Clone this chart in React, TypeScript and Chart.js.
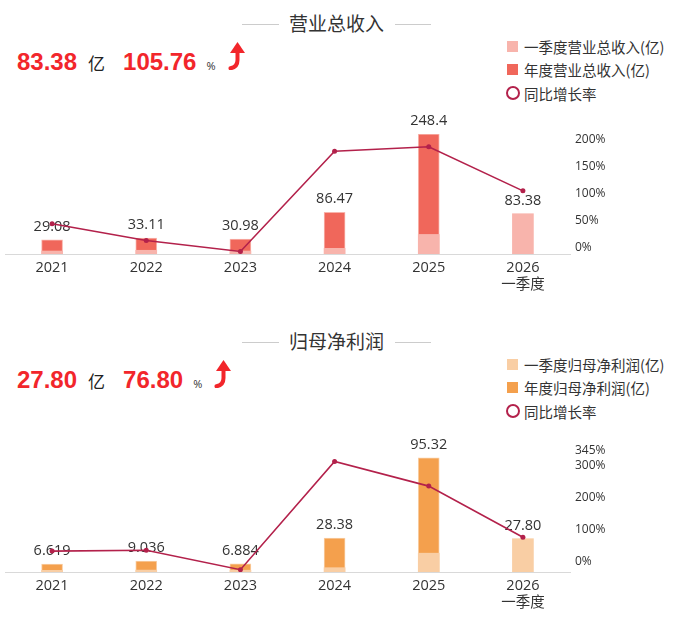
import React, { useEffect, useRef } from 'react';
import { Chart, registerables } from 'chart.js';

Chart.register(...registerables);

// ---------- data ----------
const categories: (string | string[])[] = ['2021', '2022', '2023', '2024', '2025', ['2026', '一季度']];

const revenueAnnual: (number | null)[] = [29.08, 33.11, 30.98, 86.47, 248.4, null];
const revenueQ1: number[] = [6.2, 7.7, 6.2, 11.8, 40.52, 83.38];
const revenueGrowth: number[] = [45, 13.86, -6.43, 179.1, 187.3, 105.76];
const revenueTicks: number[] = [0, 50, 100, 150, 200];

const profitAnnual: (number | null)[] = [6.619, 9.036, 6.884, 28.38, 95.32, null];
const profitQ1: number[] = [1.4, 1.6, 1.5, 3.6, 15.72, 27.8];
const profitGrowth: number[] = [34, 36.52, -23.81, 312.3, 235.9, 76.8];
const profitTicks: number[] = [0, 100, 200, 300, 345];

const FONT = "'Open Sans', 'Noto Sans CJK SC', sans-serif";
const CJK = "'Noto Sans CJK SC', 'Open Sans', sans-serif";
const LINE_COLOR = '#b3214b';
const RED = '#f2262b';

type ChartProps = {
  annual: (number | null)[];
  q1: number[];
  growth: number[];
  dark: string;
  light: string;
  leftMax: number;
  rightMin: number;
  rightMax: number;
  rightTicks: number[];
  topPad: number;
};

function BarLineChart(p: ChartProps) {
  const ref = useRef<HTMLCanvasElement | null>(null);
  useEffect(() => {
    if (!ref.current) return;
    const labelPlugin = {
      id: 'barLabels',
      afterDatasetDraw(chart: any, args: any) {
        if (args.index !== 1) return;
        const ctx = chart.ctx;
        const mq = chart.getDatasetMeta(1);
        const ma = chart.getDatasetMeta(2);
        ctx.save();
        ctx.font = `14.5px ${FONT}`;
        ctx.fillStyle = '#333';
        ctx.textAlign = 'center';
        ctx.textBaseline = 'middle';
        for (let i = 0; i < categories.length; i++) {
          const a = p.annual[i];
          const v = a != null ? a : p.q1[i];
          const el = a != null ? ma.data[i] : mq.data[i];
          if (!el) continue;
          ctx.fillText(v.toPrecision(4), el.x, el.y - 13);
        }
        ctx.restore();
      },
    };
    const chart = new Chart(ref.current, {
      type: 'bar',
      data: {
        labels: categories,
        datasets: [
          {
            type: 'line',
            data: p.growth,
            yAxisID: 'y1',
            borderColor: LINE_COLOR,
            borderWidth: 1.6,
            pointRadius: 2.5,
            pointBackgroundColor: LINE_COLOR,
            pointBorderWidth: 0,
            tension: 0,
            order: 0,
          } as any,
          {
            type: 'bar',
            data: p.q1,
            yAxisID: 'y',
            backgroundColor: p.light,
            barThickness: 21,
            grouped: false,
            order: 1,
          } as any,
          {
            type: 'bar',
            data: p.annual,
            yAxisID: 'y',
            backgroundColor: p.dark,
            borderColor: p.light,
            borderWidth: 1,
            borderSkipped: 'bottom',
            barThickness: 21,
            grouped: false,
            order: 2,
          } as any,
        ],
      },
      options: {
        responsive: false,
        animation: false,
        layout: { padding: { top: p.topPad, left: 5, right: 0, bottom: 0 } },
        plugins: { legend: { display: false }, tooltip: { enabled: false } },
        scales: {
          x: {
            grid: { display: false, drawTicks: false },
            border: { display: true, color: '#d9d9d9' },
            ticks: { color: '#333', font: { size: 14.5, family: FONT }, padding: 5, maxRotation: 0, autoSkip: false },
            afterFit: (s: any) => {
              s.height = 46;
            },
          },
          y: { display: false, min: 0, max: p.leftMax },
          y1: {
            position: 'right',
            min: p.rightMin,
            max: p.rightMax,
            grid: { display: false, drawTicks: false },
            border: { display: false },
            ticks: { color: '#333', font: { size: 12, family: FONT }, padding: 5, callback: (v: any) => v + '%' },
            afterBuildTicks: (s: any) => {
              s.ticks = p.rightTicks.map((v) => ({ value: v }));
            },
            afterFit: (s: any) => {
              s.width = 111;
            },
          },
        } as any,
      },
      plugins: [labelPlugin],
    } as any);
    return () => chart.destroy();
  }, []);
  return <canvas ref={ref} width={681} height={195} style={{ position: 'absolute', left: 0, top: 105, width: 681, height: 195 }} />;
}

function Arrow() {
  return (
    <svg width="18" height="28" viewBox="0 0 18 28" style={{ marginLeft: 12, display: 'block' }}>
      <polygon points="9.5,0 2,11 17,11" fill={RED} />
      <path d="M9.5,9 L9.5,18 Q9.5,25 2.5,26.3" stroke={RED} strokeWidth="4" fill="none" strokeLinecap="round" />
    </svg>
  );
}

type SectionProps = {
  top: number;
  title: string;
  value: number;
  pct: number;
  legend: string[];
  chart: ChartProps;
};

function Section(s: SectionProps) {
  return (
    <div style={{ position: 'absolute', left: 0, top: s.top, width: 681, height: 318 }}>
      <div style={{ position: 'absolute', left: 242, top: 24, width: 37, height: 1, background: '#cccccc' }} />
      <div style={{ position: 'absolute', left: 395, top: 24, width: 36, height: 1, background: '#cccccc' }} />
      <div
        style={{
          position: 'absolute',
          left: 236.5,
          width: 200,
          top: 10,
          lineHeight: '26px',
          textAlign: 'center',
          fontFamily: CJK,
          fontSize: 19,
          color: '#333',
        }}
      >
        {s.title}
      </div>
      <div style={{ position: 'absolute', left: 17, top: 42, height: 30, display: 'flex', alignItems: 'baseline' }}>
        <span style={{ fontFamily: "'Liberation Sans', Arial, sans-serif", fontWeight: 'bold', fontSize: 24, color: RED }}>
          {s.value.toFixed(2)}
        </span>
        <span style={{ fontFamily: CJK, fontSize: 17, color: '#222', marginLeft: 11 }}>亿</span>
        <span style={{ fontFamily: "'Liberation Sans', Arial, sans-serif", fontWeight: 'bold', fontSize: 24, color: RED, marginLeft: 18 }}>
          {s.pct.toFixed(2)}
        </span>
        <span style={{ fontFamily: FONT, fontSize: 11, color: '#333', marginLeft: 10 }}>%</span>
        <Arrow />
      </div>
      <div style={{ position: 'absolute', left: 507, top: 34.25, fontFamily: CJK, fontSize: 14.5, color: '#333' }}>
        <div style={{ display: 'flex', alignItems: 'center', height: 23.5 }}>
          <div style={{ width: 11, height: 11, background: s.chart.light, marginRight: 6 }} />
          <span>{s.legend[0]}</span>
        </div>
        <div style={{ display: 'flex', alignItems: 'center', height: 23.5 }}>
          <div style={{ width: 11, height: 11, background: s.chart.dark, marginRight: 6 }} />
          <span>{s.legend[1]}</span>
        </div>
        <div style={{ display: 'flex', alignItems: 'center', height: 23.5 }}>
          <div
            style={{
              width: 14,
              height: 14,
              boxSizing: 'border-box',
              border: `2.5px solid ${LINE_COLOR}`,
              borderRadius: '50%',
              marginLeft: -1.5,
              marginRight: 4.5,
            }}
          />
          <span>{s.legend[2]}</span>
        </div>
      </div>
      <BarLineChart {...s.chart} />
    </div>
  );
}

export default function App() {
  return (
    <div style={{ position: 'absolute', left: 0, top: 0, width: 681, height: 643, background: '#fff', overflow: 'hidden' }}>
      <Section
        top={0}
        title="营业总收入"
        value={revenueQ1[5]}
        pct={revenueGrowth[5]}
        legend={['一季度营业总收入(亿)', '年度营业总收入(亿)', '同比增长率']}
        chart={{
          annual: revenueAnnual,
          q1: revenueQ1,
          growth: revenueGrowth,
          dark: '#f0675b',
          light: '#f8b4ac',
          leftMax: 248.4,
          rightMin: -11.1,
          rightMax: 211,
          rightTicks: revenueTicks,
          topPad: 29,
        }}
      />
      <Section
        top={318}
        title="归母净利润"
        value={profitQ1[5]}
        pct={profitGrowth[5]}
        legend={['一季度归母净利润(亿)', '年度归母净利润(亿)', '同比增长率']}
        chart={{
          annual: profitAnnual,
          q1: profitQ1,
          growth: profitGrowth,
          dark: '#f4a04d',
          light: '#f9cea4',
          leftMax: 101,
          rightMin: -31,
          rightMax: 345,
          rightTicks: profitTicks,
          topPad: 28,
        }}
      />
    </div>
  );
}
